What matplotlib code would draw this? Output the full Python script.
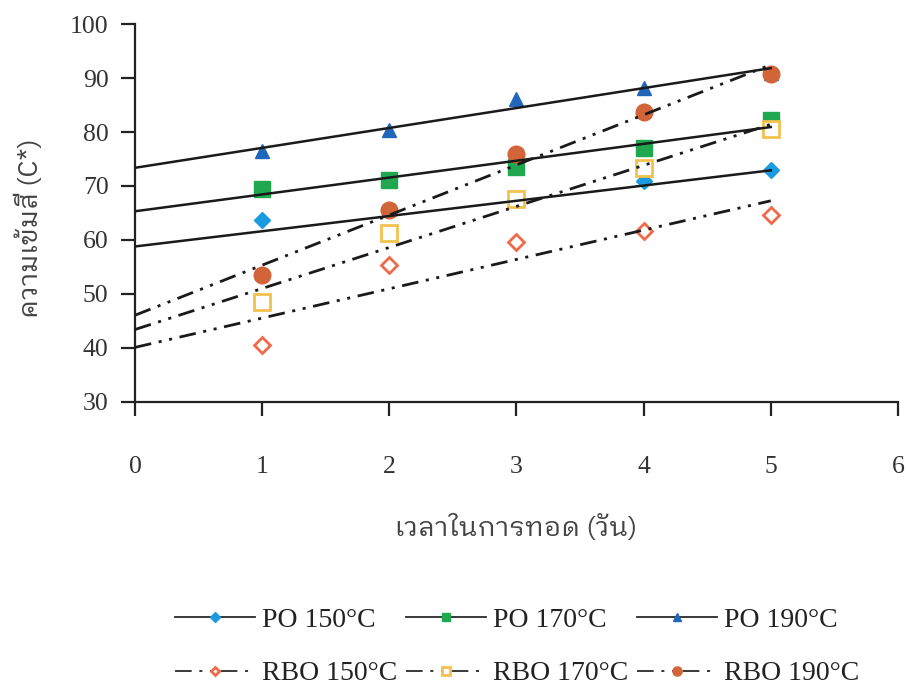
import matplotlib
matplotlib.use('Agg')
import matplotlib.pyplot as plt
from matplotlib.lines import Line2D
import numpy as np

days = [1, 2, 3, 4, 5]
po150 = [63.7, 61.3, 67.4, 70.9, 73.0]
po170 = [69.5, 71.2, 73.5, 77.0, 82.2]
po190 = [76.5, 80.3, 86.2, 88.2, 91.0]
rbo150 = [40.6, 55.4, 59.7, 61.7, 64.6]
rbo170 = [48.5, 61.3, 67.5, 73.3, 80.5]
rbo190 = [53.5, 65.5, 76.0, 83.7, 90.8]

labels = ['PO 150°C', 'PO 170°C', 'PO 190°C', 'RBO 150°C', 'RBO 170°C', 'RBO 190°C']

plt.rcParams['font.family'] = ['Liberation Serif', 'IBM Plex Sans Thai Looped']
plt.rcParams['lines.scale_dashes'] = False
thai_font = ['IBM Plex Sans Thai Looped', 'DejaVu Sans']

fig = plt.figure(figsize=(9.07, 6.92), dpi=100)
ax = fig.add_axes([0.1488, 0.4191, 0.8412, 0.5462])

dashdotdot = (0, (12, 5.5, 2.2, 5.5, 2.2, 5.5))
series = [
    (po150, dict(marker='D', ms=8.5, mfc='#1a9be0', mec='#1a9be0'), '-'),
    (po170, dict(marker='s', ms=11.5, mfc='#20a850', mec='#20a850'), '-'),
    (po190, dict(marker='^', ms=10.5, mfc='#2266bb', mec='#2266bb'), '-'),
    (rbo150, dict(marker='D', ms=8, mfc='white', mec='#f06a4a', mew=2), dashdotdot),
    (rbo170, dict(marker='s', ms=11, mfc='white', mec='#f2c14e', mew=2), dashdotdot),
    (rbo190, dict(marker='o', ms=12, mfc='#d2643a', mec='#d2643a'), dashdotdot),
]

# linear trend lines from 0 to 5
xfit = np.array([0, 5])
handles = []
for vals, mk, ls in series:
    ax.plot(days, vals, ls='none', zorder=3, **mk)
    k, b = np.polyfit(days, vals, 1)
    lw = 1.8 if ls == '-' else 2.0
    ax.plot(xfit, k * xfit + b, color='#1a1a1a', lw=lw, ls=ls, zorder=4)
    handles.append(Line2D([], [], color='#2a2a2a', lw=1.3, ls=ls, **mk))

ax.set_xlim(0, 6)
ax.set_ylim(30, 100)
ax.set_xticks(range(0, 7))
ax.set_yticks(range(30, 101, 10))
for s in ['top', 'right']:
    ax.spines[s].set_visible(False)
for s in ['left', 'bottom']:
    ax.spines[s].set_color('#222222')
    ax.spines[s].set_linewidth(1.6)
ax.tick_params(axis='both', direction='out', length=10, width=1.6, color='#222222',
               labelsize=18.5, labelcolor='#333333')
ax.tick_params(axis='x', pad=29)
ax.tick_params(axis='y', pad=9)

ax.set_xlabel('เวลาในการทอด (วัน)', fontsize=19.5, color='#444444', labelpad=26,
              family=thai_font)
ax.set_ylabel('ความเข้มสี (C*)', fontsize=19.5, color='#444444',
              family=thai_font)
ax.yaxis.set_label_coords(-0.12, 0.46)

order = [0, 3, 1, 4, 2, 5]
fig.legend([handles[i] for i in order], [labels[i] for i in order], ncol=3,
           loc='center', bbox_to_anchor=(0.57, 0.065), frameon=False,
           fontsize=20, handlelength=2.9, handletextpad=0.25, columnspacing=0.3,
           labelspacing=1.0, labelcolor='#222222', markerscale=0.55)

fig.savefig('out.png', dpi=100)
